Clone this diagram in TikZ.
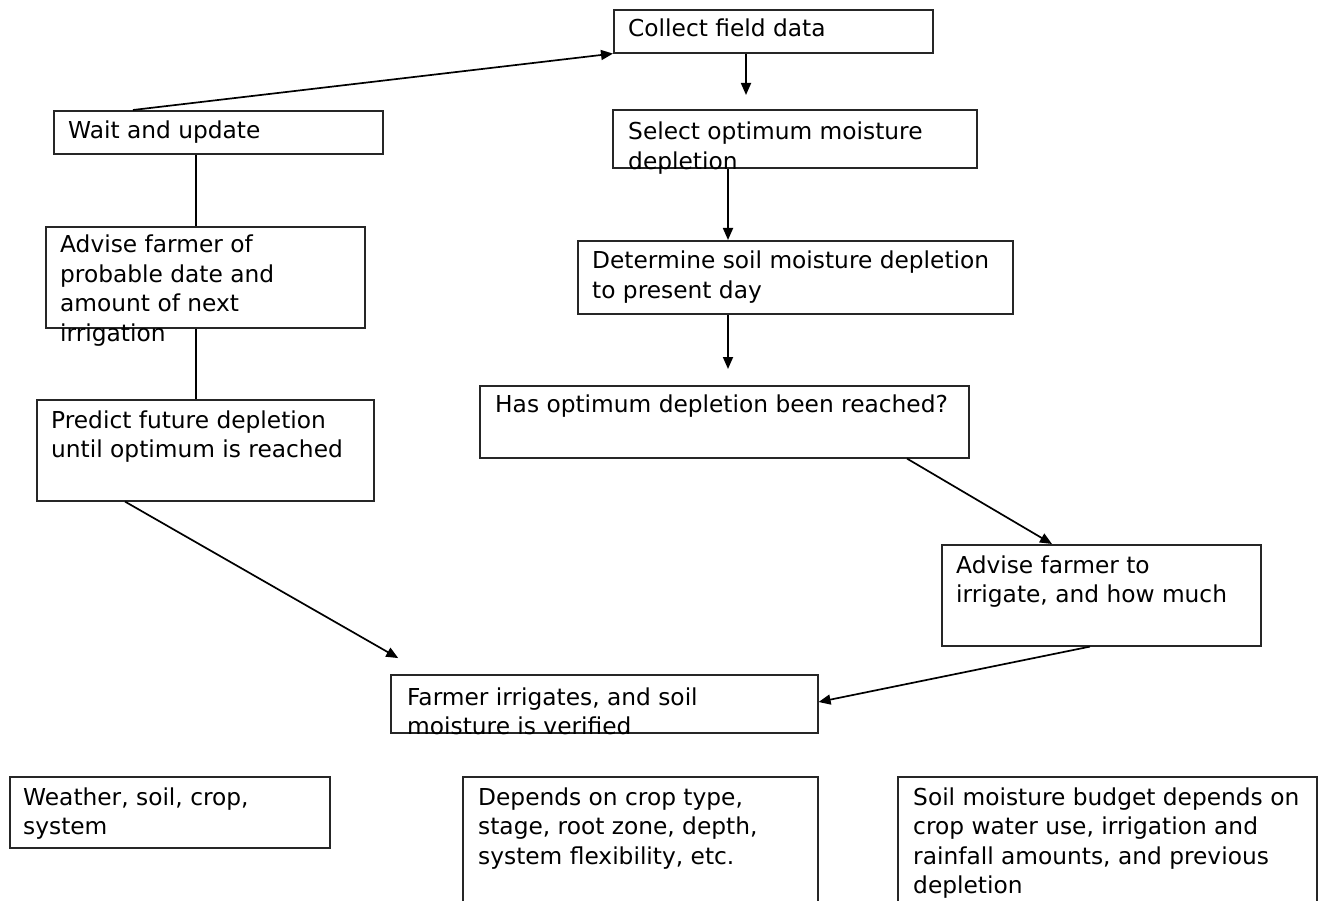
\documentclass[tikz,border=0pt]{standalone}
\usepackage{fontspec}
\setmainfont{DejaVu Sans}
\usetikzlibrary{arrows.meta,calc}
\newcommand\mlines[1]{\vtop{\baselineskip=29.5pt\lineskiplimit=-100pt\halign{##\hfil\cr#1\crcr}}}
\tikzset{
  box/.style={draw=black!85, line width=1.6pt, anchor=north west, inner sep=0pt, fill=none},
  txt/.style={anchor=base west, inner sep=0pt, font=\fontsize{23.3}{29.5}\selectfont, text=black},
  conn/.style={draw=black, line width=1.7pt},
  arr/.style={conn, -{Triangle[length=12pt,width=10pt]}}
}
\begin{document}
\begin{tikzpicture}[x=1pt,y=-1pt]
\useasboundingbox (0,0) rectangle (1325,901);
\clip (0,0) rectangle (1325,901);
% boxes
\node[box, minimum width=319pt, minimum height=43pt] (collect) at (613,9) {};
\node[box, minimum width=329pt, minimum height=43pt] (wait) at (53,110) {};
\node[box, minimum width=364pt, minimum height=58pt] (select) at (612,109) {};
\node[box, minimum width=319pt, minimum height=101pt] (advise1) at (45,226) {};
\node[box, minimum width=435pt, minimum height=73pt] (determine) at (577,240) {};
\node[box, minimum width=337pt, minimum height=101pt] (predict) at (36,399) {};
\node[box, minimum width=489pt, minimum height=72pt] (has) at (479,385) {};
\node[box, minimum width=319pt, minimum height=101pt] (advise2) at (941,544) {};
\node[box, minimum width=427pt, minimum height=58pt] (farmer) at (390,674) {};
\node[box, minimum width=320pt, minimum height=71pt] (weather) at (9,776) {};
\node[box, minimum width=355pt, minimum height=160pt] (depends) at (462,776) {};
\node[box, minimum width=419pt, minimum height=160pt] (soil) at (897,776) {};
% texts
\node[txt] (collectT) at (628,37) {\mlines{Collect field data}};
\node[txt] (waitT) at (68,139) {\mlines{Wait and update}};
\node[txt] (selectT) at (628,140) {\mlines{Select optimum moisture\cr depletion}};
\node[txt] (advise1T) at (60,253) {\mlines{Advise farmer of\cr probable date and\cr amount of next\cr irrigation}};
\node[txt] (determineT) at (592,269) {\mlines{Determine soil moisture depletion\cr to present day}};
\node[txt] (predictT) at (51,428) {\mlines{Predict future depletion\cr until optimum is reached}};
\node[txt] (hasT) at (495,412) {\mlines{Has optimum depletion been reached?}};
\node[txt] (advise2T) at (956,573) {\mlines{Advise farmer to\cr irrigate, and how much}};
\node[txt] (farmerT) at (407,705) {\mlines{Farmer irrigates, and soil\cr moisture is verified}};
\node[txt] (weatherT) at (23,805) {\mlines{Weather, soil, crop,\cr system}};
\node[txt] (dependsT) at (478,805) {\mlines{Depends on crop type,\cr stage, root zone, depth,\cr system flexibility, etc.}};
\node[txt] (soilT) at (913,805) {\mlines{Soil moisture budget depends on\cr crop water use, irrigation and\cr rainfall amounts, and previous\cr depletion}};
% connectors
\draw[arr] ($(wait.north west)+(80,0)$) -- (collect.south west);
\draw[arr, shorten >=14pt] ($(collect.south west)+(133,0)$) coordinate (c1) -- (c1 |- select.north);
\draw[arr] ($(select.south west)+(116,0)$) coordinate (c2) -- (c2 |- determine.north);
\draw[arr, shorten >=16pt] ($(determine.south west)+(151,0)$) coordinate (c3) -- (c3 |- has.north);
\draw[arr] ($(has.south west)+(428,0)$) -- ($(advise2.north west)+(111,0)$);
\draw[arr] ($(advise2.south west)+(149,0)$) -- ($(farmer.north east)+(0,28)$);
\draw[arr, shorten >=32pt] ($(predict.south west)+(89,0)$) -- ($(farmer.north west)+(36,0)$);
\draw[conn] ($(wait.south west)+(143,0)$) coordinate (c4) -- (c4 |- advise1.north);
\draw[conn] ($(advise1.south west)+(151,0)$) coordinate (c5) -- (c5 |- predict.north);
\end{tikzpicture}
\end{document}
